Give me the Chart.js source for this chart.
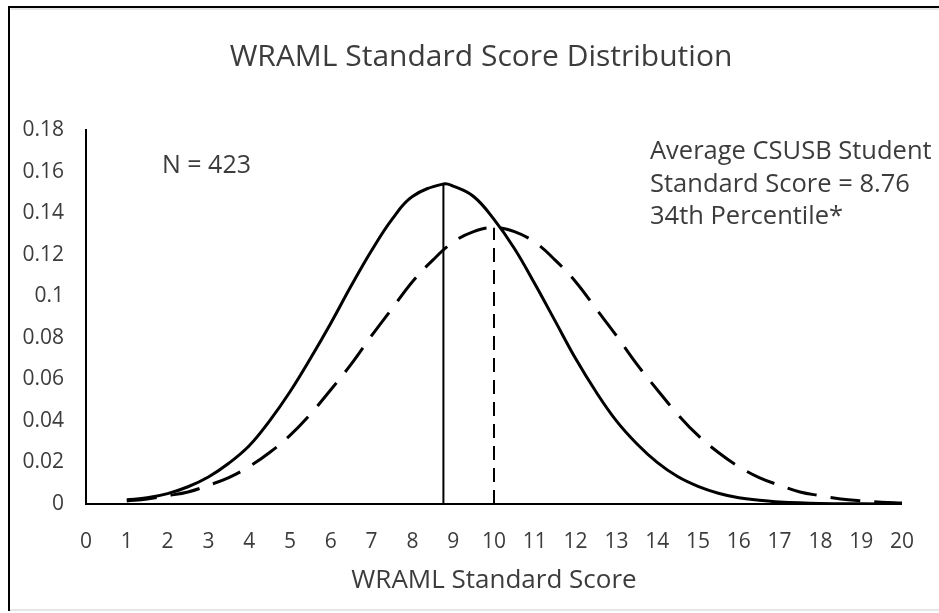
<!DOCTYPE html>
<html>
<head>
<meta charset="utf-8">
<script src="https://cdn.jsdelivr.net/npm/chart.js@4.4.1/dist/chart.umd.min.js"></script>
<style>
  html, body { margin: 0; padding: 0; background: #fff; }
  #wrap { width: 939px; height: 613px; position: relative; }
</style>
</head>
<body>
<div id="wrap"><canvas id="chart" width="939" height="613"></canvas></div>
<script>
// valores
const solidScores = [1, 1.5, 2, 2.5, 3, 3.5, 4, 4.5, 5, 5.5, 6, 6.5, 7, 7.5, 8, 8.76, 9, 9.5, 10, 10.5,
                     11, 11.5, 12, 12.5, 13, 13.5, 14, 14.5, 15, 15.5, 16, 16.5, 17, 18, 19, 20];
const solidDensity = [0.002, 0.003, 0.005, 0.0083, 0.013, 0.0196, 0.028, 0.040, 0.054, 0.070, 0.087, 0.105,
                      0.122, 0.137, 0.148, 0.154, 0.153, 0.148, 0.137, 0.123, 0.106, 0.088, 0.070, 0.054,
                      0.040, 0.029, 0.020, 0.0132, 0.0085, 0.0052, 0.003, 0.0018, 0.001, 0.0003, 0.0001, 0];
const dashedScores = [1, 1.5, 2, 2.5, 3, 3.5, 4, 4.5, 5, 5.5, 6, 6.5, 7, 7.5, 8, 8.5, 9, 9.5, 10, 10.5,
                      11, 11.5, 12, 12.5, 13, 13.5, 14, 14.5, 15, 15.5, 16, 16.5, 17, 17.5, 18, 18.5, 19, 19.5, 20];
const dashedDensity = [0.0015, 0.0024, 0.004, 0.0058, 0.009, 0.0127, 0.018, 0.0248, 0.033, 0.0432, 0.055,
                       0.0673, 0.081, 0.094, 0.107, 0.1174, 0.126, 0.1311, 0.133, 0.1311, 0.126, 0.1174,
                       0.107, 0.094, 0.081, 0.0673, 0.055, 0.0432, 0.033, 0.0248, 0.018, 0.0127, 0.009,
                       0.0058, 0.004, 0.0024, 0.0015, 0.0009, 0.0005];
const studentMean = 8.76;
const studentPeak = 0.154;
const normMean = 10;
const normPeak = 0.133;
const xTicks = [0, 20, 1];        // min, max, step
const yTicks = [0, 0.18, 0.02];   // min, max, step

const chartTitle = 'WRAML Standard Score Distribution';
const xTitle = 'WRAML Standard Score';
const nLabel = 'N = 423';
const noteLines = ['Average CSUSB Student', 'Standard Score = 8.76', '34th Percentile*'];

const FONT = "'Open Sans', sans-serif";
const TEXT = '#3c3c3c';

const toPoints = (xs, ys) => xs.map((x, i) => ({ x, y: ys[i] }));

// marco + título + notas
const framePlugin = {
  id: 'frame',
  beforeDraw(chart) {
    const c = chart.ctx;
    c.save();
    c.fillStyle = '#fff';
    c.fillRect(0, 0, chart.width, chart.height);
    c.fillStyle = '#e6e6e6';
    c.fillRect(9, 609, 930, 2);
    c.fillRect(11, 8, 928, 2);
    c.fillStyle = '#000';
    c.fillRect(8, 6, 931, 2);
    c.fillRect(8, 6, 2, 605);
    c.restore();
  },
  afterDraw(chart) {
    const c = chart.ctx;
    c.save();
    c.fillStyle = TEXT;
    c.textBaseline = 'middle';
    c.textAlign = 'center';
    c.font = `30px ${FONT}`;
    c.fillText(chartTitle, 481, 57);
    c.textBaseline = 'alphabetic';
    c.textAlign = 'left';
    c.font = `25px ${FONT}`;
    c.fillText(nLabel, 162, 173);
    c.font = `25.5px ${FONT}`;
    noteLines.forEach((t, i) => c.fillText(t, 650, 159 + i * 32.5));
    c.restore();
  }
};

new Chart(document.getElementById('chart'), {
  type: 'line',
  data: {
    datasets: [
      { data: toPoints(solidScores, solidDensity), borderColor: '#000', borderWidth: 3,
        pointRadius: 0, tension: 0.4, fill: false },
      { data: toPoints(dashedScores, dashedDensity), borderColor: '#000', borderWidth: 3,
        borderDash: [30, 14], pointRadius: 0, tension: 0.4, fill: false },
      { data: [{ x: studentMean, y: 0 }, { x: studentMean, y: studentPeak }], borderColor: '#000',
        borderWidth: 2, pointRadius: 0 },
      { data: [{ x: normMean, y: 0 }, { x: normMean, y: normPeak }], borderColor: '#000',
        borderWidth: 2, borderDash: [14, 8], pointRadius: 0 }
    ]
  },
  options: {
    responsive: false,
    animation: false,
    layout: { padding: { top: 130, right: 37, bottom: 17, left: 0 } },
    plugins: {
      legend: { display: false },
      tooltip: { enabled: false },
      title: { display: false }
    },
    scales: {
      x: {
        type: 'linear', min: xTicks[0], max: xTicks[1],
        afterFit: s => { s.height = 92; },
        grid: { display: false, drawTicks: false },
        border: { display: true, color: '#000', width: 2 },
        ticks: { stepSize: xTicks[2], color: TEXT, padding: 25, maxRotation: 0, autoSkip: false,
                 font: { family: FONT, size: 21 } },
        title: { display: true, text: xTitle, color: TEXT, padding: { top: 0, bottom: 0 },
                 font: { family: FONT, size: 26 } }
      },
      y: {
        min: yTicks[0], max: yTicks[1],
        afterFit: s => { s.width = 86; },
        grid: { display: false, drawTicks: false },
        border: { display: true, color: '#000', width: 2 },
        ticks: { stepSize: yTicks[2], color: TEXT, padding: 22,
                 font: { family: FONT, size: 21 },
                 callback: v => String(+v.toFixed(2)) }
      }
    }
  },
  plugins: [framePlugin]
});
</script>
</body>
</html>
